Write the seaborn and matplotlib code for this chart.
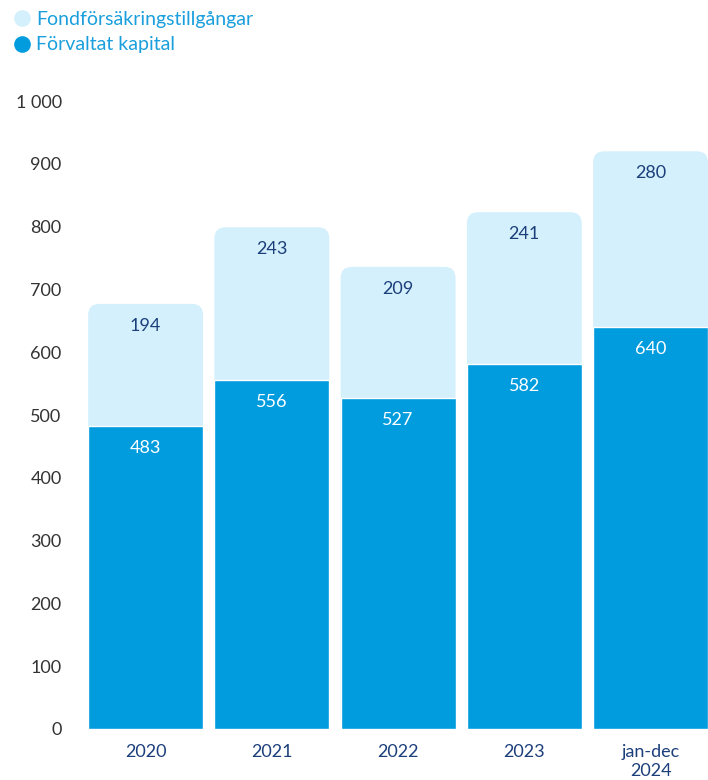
import matplotlib
matplotlib.use("Agg")
import matplotlib.pyplot as plt
import seaborn as sns
import pandas as pd
from matplotlib.patches import FancyBboxPatch
from matplotlib.lines import Line2D

# Data
years = ["2020", "2021", "2022", "2023", "jan-dec\n2024"]
forvaltat = [483, 556, 527, 582, 640]
fondforsakring = [194, 243, 209, 241, 280]

dark_blue = "#009CDE"
light_blue = "#D3F0FC"
navy = "#1C3F7C"
legend_txt = "#1A9FDC"
tick_gray = "#333333"

df = pd.DataFrame({"year": years, "base": forvaltat, "top": fondforsakring})
df["total"] = df["base"] + df["top"]

sns.set_style("white")
plt.rcParams["font.family"] = ["Lato", "DejaVu Sans"]

fig = plt.figure(figsize=(7.08, 7.8), dpi=100)
ax = fig.add_axes([0.1165, 0.0654, 0.8915, 0.805])

sns.barplot(data=df, x="year", y="total", color=light_blue, width=0.91,
            saturation=1, ax=ax, zorder=1)
sns.barplot(data=df, x="year", y="base", color=dark_blue, width=0.91,
            saturation=1, ax=ax, zorder=2)

ax.set_xlim(-0.5, 4.5)
ax.set_ylim(0, 1000)

# swap the light bars for versions with rounded tops
n = len(df)
light_patches = list(ax.patches[:n])
fig.canvas.draw()
p0 = ax.transData.transform((0, 0))
p1 = ax.transData.transform((1, 1))
px_x = p1[0] - p0[0]
px_y = abs(p1[1] - p0[1])
radius_px = 11
for p in light_patches:
    x, y = p.get_x(), p.get_y()
    w, h = p.get_width(), p.get_height()
    rb = FancyBboxPatch((x, y), w, h,
                        boxstyle=f"round,pad=0,rounding_size={radius_px / px_x}",
                        mutation_aspect=px_x / px_y,
                        facecolor=light_blue, edgecolor="none", zorder=1)
    p.remove()
    ax.add_patch(rb)

# value labels
off = 22 / px_y
for i, row in df.iterrows():
    ax.text(i, row["total"] - off, f"{row['top']}", ha="center", va="center",
            color=navy, fontsize=13, zorder=5)
    ax.text(i, row["base"] - off, f"{row['base']}", ha="center", va="center",
            color="white", fontsize=13, zorder=5)

ax.set_yticks(range(0, 1001, 100))
ax.set_yticklabels(["1 000" if v == 1000 else str(v) for v in range(0, 1001, 100)])
ax.tick_params(axis="y", length=0, pad=15, labelsize=13, labelcolor=tick_gray)
ax.tick_params(axis="x", length=0, pad=11, labelsize=13, labelcolor=navy)
ax.set_xlabel("")
ax.set_ylabel("")
sns.despine(ax=ax, left=True, bottom=True)

handles = [
    Line2D([], [], marker="o", linestyle="none", markersize=12,
           markerfacecolor=light_blue, markeredgecolor="none"),
    Line2D([], [], marker="o", linestyle="none", markersize=12,
           markerfacecolor=dark_blue, markeredgecolor="none"),
]
leg = fig.legend(handles, ["Fondförsäkringstillgångar", "Förvaltat kapital"],
                 loc="upper left", bbox_to_anchor=(0.0, 1.0), frameon=False,
                 fontsize=14, handletextpad=0.1, labelspacing=0.45,
                 borderaxespad=0.15, handlelength=1.2)
for t in leg.get_texts():
    t.set_color(legend_txt)

fig.savefig("out.png", dpi=100)
